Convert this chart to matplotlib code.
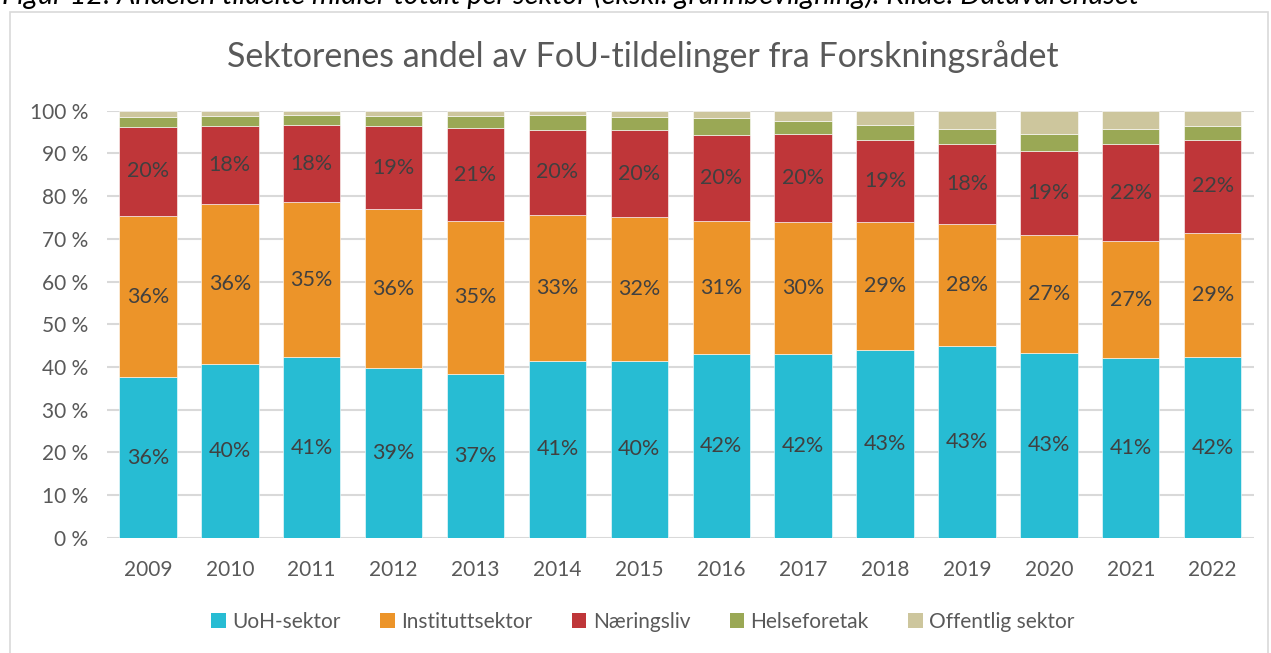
import matplotlib
matplotlib.use("Agg")
import matplotlib.pyplot as plt
from matplotlib.patches import Rectangle, Patch
import numpy as np

plt.rcParams['font.family'] = ['Lato', 'DejaVu Sans']

years = ["2009", "2010", "2011", "2012", "2013", "2014", "2015",
         "2016", "2017", "2018", "2019", "2020", "2021", "2022"]
series_names = ["UoH-sektor", "Instituttsektor", "Næringsliv", "Helseforetak", "Offentlig sektor"]

# Shares of the stacked column (percent of bar height)
uoh = [37.55, 40.59, 42.23, 39.66, 38.33, 41.45, 41.45, 42.94, 43.01, 44.03, 44.89, 43.33, 42.00, 42.23]
institutt = [37.86, 37.47, 36.38, 37.23, 35.91, 34.12, 33.65, 31.30, 30.92, 29.82, 28.65, 27.63, 27.48, 29.20]
naering = [20.84, 18.27, 18.03, 19.44, 21.62, 19.98, 20.37, 20.14, 20.53, 19.36, 18.58, 19.67, 22.71, 21.78]
helse = [2.19, 2.42, 2.34, 2.42, 2.89, 3.51, 2.97, 3.82, 3.12, 3.51, 3.59, 3.91, 3.52, 3.28]
offentlig = [1.56, 1.25, 1.02, 1.25, 1.25, 0.94, 1.56, 1.80, 2.42, 3.28, 4.29, 5.46, 4.29, 3.51]

# Data labels as printed in the chart
uoh_labels = [36, 40, 41, 39, 37, 41, 40, 42, 42, 43, 43, 43, 41, 42]
institutt_labels = [36, 36, 35, 36, 35, 33, 32, 31, 30, 29, 28, 27, 27, 29]
naering_labels = [20, 18, 18, 19, 21, 20, 20, 20, 20, 19, 18, 19, 22, 22]

colors = ["#27BCD3", "#EC9429", "#BF3639", "#9AA855", "#CDC69D"]

W, H = 1271, 653
fig = plt.figure(figsize=(W / 100, H / 100), dpi=100)

# caption cut off at the top of the image
fig.text(2 / W, 1 - 4 / H,
         "Figur 12: Andelen tildelte midler totalt per sektor (ekskl. grunnbevilgning). Kilde: Datavarehuset",
         fontsize=20.8, style='italic', color='black', ha='left', va='baseline')

# chart area border
fig.patches.append(Rectangle((10 / W, -0.05), (1268 - 10) / W, 1 - 12 / H + 0.05,
                             transform=fig.transFigure, fill=False,
                             edgecolor="#D9D9D9", linewidth=1.2))

left, right, top, bottom = 107, 1253.6, 110.7, 537.7
ax = fig.add_axes([left / W, 1 - bottom / H, (right - left) / W, (bottom - top) / H])

x = np.arange(len(years))
all_series = [uoh, institutt, naering, helse, offentlig]
all_labels = [uoh_labels, institutt_labels, naering_labels, None, None]
base = np.zeros(len(years))
for vals, lab, col, name in zip(all_series, all_labels, colors, series_names):
    vals = np.array(vals)
    ax.bar(x, vals, bottom=base, width=0.7, color=col, edgecolor="white",
           linewidth=0.4, label=name, zorder=3)
    if lab is not None:
        for xi, b, v, l in zip(x, base, vals, lab):
            ax.text(xi, b + v / 2, f"{l}%", ha='center', va='center',
                    fontsize=15.5, color="#404040", zorder=4)
    base = base + vals

ax.set_xlim(-0.5, len(years) - 0.5)
ax.set_ylim(0, 100)
ax.set_yticks(np.arange(0, 101, 10))
ax.set_yticklabels([f"{v} %" for v in range(0, 101, 10)])
ax.set_xticks(x)
ax.set_xticklabels(years)
ax.tick_params(axis='both', length=0, labelsize=15, labelcolor="#595959")
ax.tick_params(axis='y', pad=13.5)
ax.tick_params(axis='x', pad=16)
ax.grid(axis='y', color="#D9D9D9", linewidth=1.5, zorder=0)
for s in ax.spines.values():
    s.set_visible(False)

fig.text(643 / W, 1 - 57 / H, "Sektorenes andel av FoU-tildelinger fra Forskningsrådet",
         ha='center', va='center', fontsize=24.5, color="#595959")

handles = [Patch(facecolor=c, edgecolor='none') for c in colors]
fig.legend(handles, series_names, loc='center', bbox_to_anchor=(643 / W, 1 - 622 / H),
           ncol=5, frameon=False, fontsize=15, handlelength=0.7, handleheight=0.7,
           handletextpad=0.3, columnspacing=1.9, labelcolor="#595959")

fig.savefig("out.png", dpi=100)
